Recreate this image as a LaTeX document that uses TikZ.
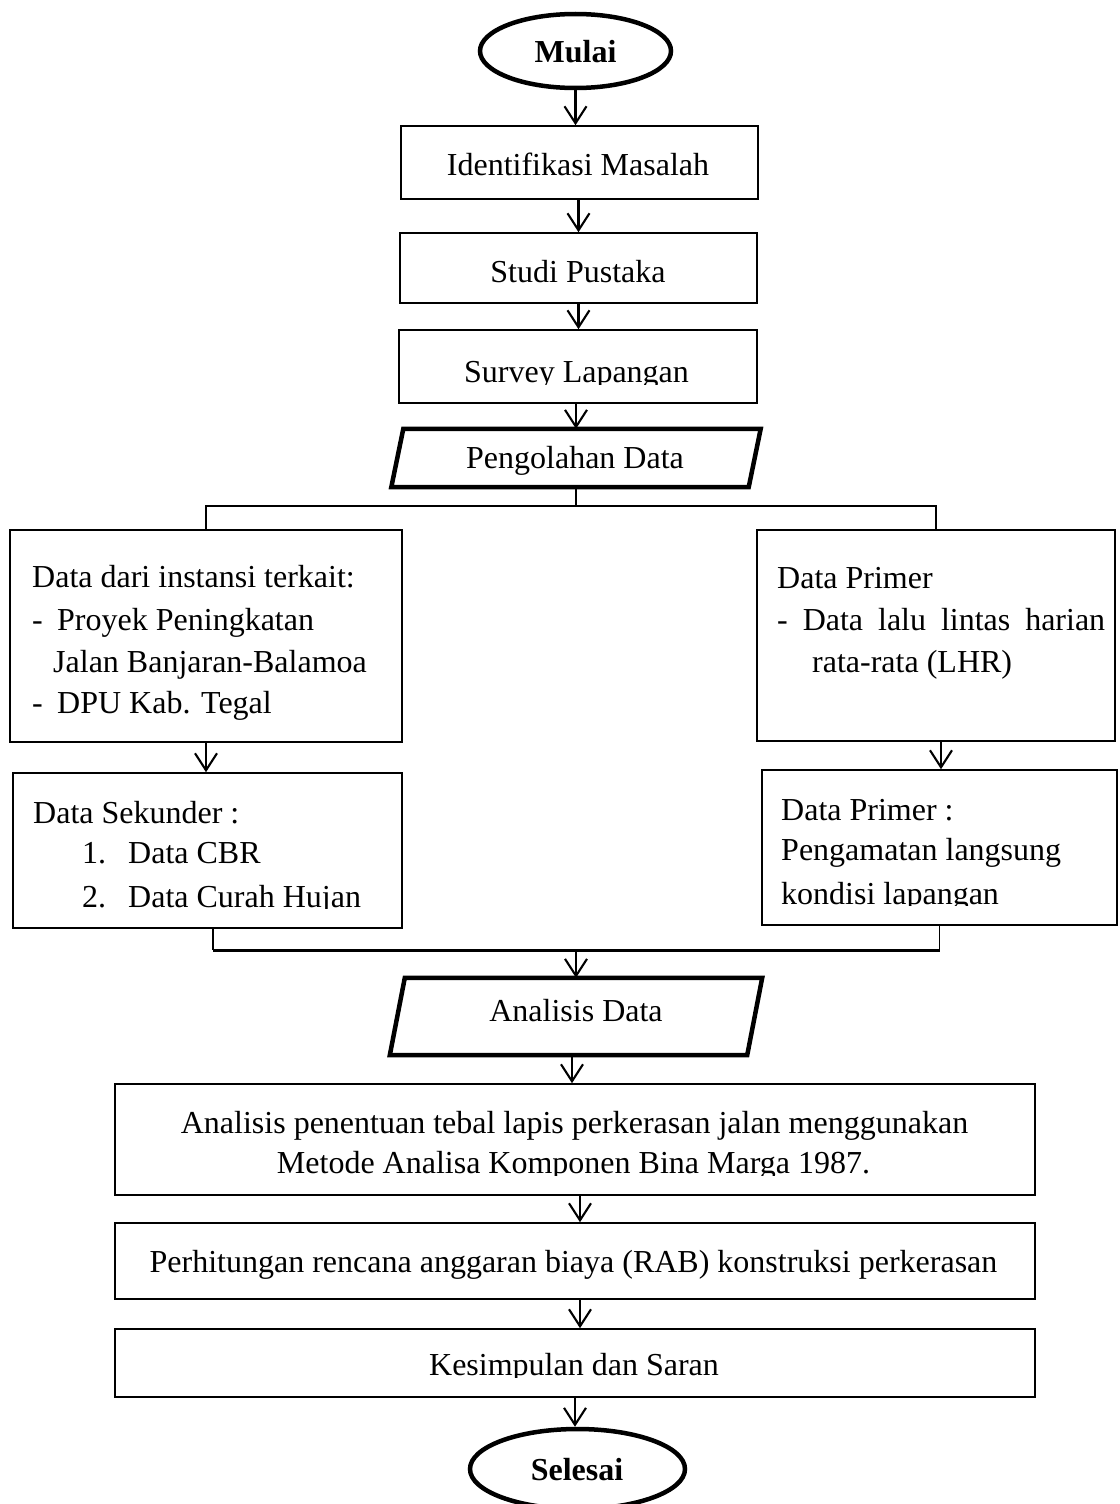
\documentclass[tikz,border=0pt]{standalone}
\usepackage{fontspec}
\setmainfont{Liberation Serif}
\usetikzlibrary{shapes.geometric,arrows.meta}
\newcommand\fsz{\fontsize{32pt}{40pt}\selectfont}
\begin{document}
\begin{tikzpicture}[x=1pt,y=-1pt,
  box/.style={draw, line width=1.6pt, rectangle, inner sep=0pt, anchor=center},
  ghost/.style={rectangle, inner sep=0pt, anchor=center},
  term/.style={draw, ellipse, line width=4.5pt, inner sep=0pt},
  txt/.style={inner sep=0pt, anchor=base west, font=\fsz},
  ctxt/.style={inner sep=0pt, anchor=base, font=\fsz},
  arr/.style={line width=2.1pt, -{Straight Barb[length=17pt,width=22pt]}},
  conn/.style={line width=1.8pt},
  para/.style={line width=4.5pt, line join=miter}
]
\useasboundingbox (0,0) rectangle (1119,1504);

% terminals
\node[term, minimum width=191pt, minimum height=74pt] (mulai) at (575.5,51) {};
\node[ctxt, font=\fsz\bfseries] (tmulai) at (575.5,63) {Mulai};

% boxes
\node[box, minimum width=357pt, minimum height=73pt] (b1) at (579.5,162.5) {};
\node[box, minimum width=357pt, minimum height=70pt] (b2) at (578.5,268) {};
\node[box, minimum width=358pt, minimum height=73pt] (b3) at (578,366.5) {};
\node[ctxt] (t1) at (578,175) {Identifikasi Masalah};
\node[ctxt] (t2) at (578,282) {Studi Pustaka};
\begin{scope}
  \clip (0,0) rectangle (1119,384);
  \node[ctxt] (t3) at (576.5,382) {Survey Lapangan};
\end{scope}

% parallelogram 1
\node[ghost, minimum width=357pt, minimum height=58pt] (p1) at (576,458) {};
\draw[para] ([xshift=6pt]p1.north west) -- ([xshift=6pt]p1.north east)
  -- ([xshift=-6pt]p1.south east) -- ([xshift=-6pt]p1.south west) -- cycle;
\node[ctxt] (tp1) at (575,468) {Pengolahan Data};

% branch boxes
\node[box, minimum width=392pt, minimum height=212pt] (L1) at (206,636) {};
\node[box, minimum width=358pt, minimum height=211pt] (R1) at (936,635.5) {};
\node[box, minimum width=389pt, minimum height=155pt] (L2) at (207.5,850.5) {};
\node[box, minimum width=355pt, minimum height=155pt] (R2) at (939.5,847.5) {};

% L1 text
\node[txt] (l1a) at (32,587) {Data dari instansi terkait:};
\node[txt] (l1b) at (32,630) {-};
\node[txt] (l1c) at (57,630) {Proyek Peningkatan};
\node[txt] (l1d) at (53,672) {Jalan Banjaran-Balamoa};
\node[txt] (l1e) at (32,713) {-};
\node[txt] (l1f) at (57,713) {DPU Kab. Tegal};

% R1 text
\node[txt] (r1a) at (777,588) {Data Primer};
\node[txt] (r1b) at (777,630) {\makebox[328pt][s]{- Data lalu lintas harian}};
\node[txt] (r1c) at (812,672) {rata-rata (LHR)};

% L2 text
\node[txt] (l2a) at (33,823) {Data Sekunder :};
\node[txt] (l2b) at (82,863) {1.};
\node[txt] (l2c) at (128,863) {Data CBR};
\begin{scope}
  \clip (0,0) rectangle (1119,908);
  \node[txt] (l2d) at (82,907) {2.};
  \node[txt] (l2e) at (128,907) {Data Curah Hujan};
\end{scope}

% R2 text
\node[txt] (r2a) at (781,820) {Data Primer :};
\node[txt] (r2b) at (781,860) {Pengamatan langsung};
\begin{scope}
  \clip (0,0) rectangle (1119,905);
  \node[txt] (r2c) at (781,904) {kondisi lapangan};
\end{scope}

% parallelogram 2
\node[ghost, minimum width=357pt, minimum height=77pt] (p2) at (576,1016.5) {};
\draw[para] ([xshift=7.5pt]p2.north west) -- ([xshift=7.5pt]p2.north east)
  -- ([xshift=-7.5pt]p2.south east) -- ([xshift=-7.5pt]p2.south west) -- cycle;
\node[ctxt] (tp2) at (576,1021) {Analisis Data};

% lower boxes
\node[box, minimum width=920pt, minimum height=111pt] (A) at (575,1139.5) {};
\node[box, minimum width=920pt, minimum height=76pt] (P) at (575,1261) {};
\node[box, minimum width=920pt, minimum height=68pt] (K) at (575,1363) {};
\node[ctxt] (ta1) at (574.5,1133) {Analisis penentuan tebal lapis perkerasan jalan menggunakan};
\begin{scope}
  \clip (0,0) rectangle (1119,1175);
  \node[ctxt] (ta2) at (573.5,1173) {Metode Analisa Komponen Bina Marga 1987.};
\end{scope}
\node[ctxt] (tP) at (573.5,1272) {Perhitungan rencana anggaran biaya (RAB) konstruksi perkerasan};
\begin{scope}
  \clip (0,0) rectangle (1119,1377);
  \node[ctxt] (tK) at (574,1375) {Kesimpulan dan Saran};
\end{scope}

\node[term, minimum width=215pt, minimum height=80pt] (selesai) at (577.5,1469) {};
\node[ctxt, font=\fsz\bfseries] (tsel) at (577,1480) {Selesai};

% connectors
\draw[arr] (mulai.south) -- (mulai.south |- b1.north);
\draw[arr] (b1.south -| b2.north) -- (b2.north);
\draw[arr] (b2.south) -- (b2.south |- b3.north);
\draw[arr] (b3.south -| p1.north) -- (p1.north);

\coordinate (split) at (576,506);
\draw[conn] (p1.south) -- (split);
\draw[conn] (L1.north) |- (split) -| (R1.north);

\draw[arr] (L1.south) -- (L1.south |- L2.north);
\draw[arr] ([xshift=5pt]R1.south) -- ([xshift=5pt]R1.south |- R2.north);

\coordinate (jl) at (213,950);
\coordinate (jr) at (939.5,950);
\coordinate (join) at (576,950);
\draw[conn] ([xshift=5.5pt]L2.south) -- (jl);
\draw[conn] (R2.south) -- (jr);
\draw[line width=3pt] (jl) -- (jr);
\draw[arr] (join) -- (p2.north);

\draw[arr] ([xshift=-4pt]p2.south) -- ([xshift=-4pt]p2.south |- A.north);
\draw[arr] ([xshift=5pt]A.south) -- ([xshift=5pt]A.south |- P.north);
\draw[arr] ([xshift=5pt]P.south) -- ([xshift=5pt]P.south |- K.north);
\draw[arr] (K.south) -- (K.south |- selesai.north);
\end{tikzpicture}
\end{document}
